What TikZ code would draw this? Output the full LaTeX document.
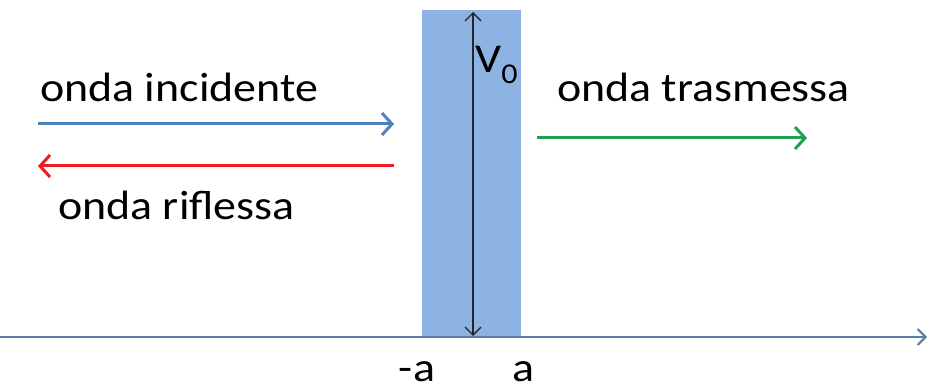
\documentclass[tikz,border=0pt]{standalone}
\usepackage{fontspec}
\setmainfont{Carlito}[FakeStretch=1.12]
\usetikzlibrary{arrows.meta}
\definecolor{barrier}{HTML}{8DB3E2}
\definecolor{incblue}{HTML}{4F81BD}
\definecolor{axisblue}{HTML}{5A7FA8}
\definecolor{refred}{HTML}{EE1C1C}
\definecolor{trgreen}{HTML}{1FA055}
\tikzset{
  lbl/.style={inner sep=0pt, anchor=base west, font=\fontsize{41}{43}\selectfont},
  wave/.style={line width=3pt, -{Straight Barb[length=10pt,width=22pt,line width=3pt]}},
}
\begin{document}
\begin{tikzpicture}[x=1pt,y=-1pt]
\useasboundingbox (0,0) rectangle (928,390);
% barrier
\fill[barrier] (422,10) rectangle (521,337);
% axis
\coordinate (ax0) at (0,337);
\coordinate (ax1) at (927,337);
\draw[axisblue, line width=2pt, -{Straight Barb[length=8pt,width=16pt,line width=2pt]}] (ax0) -- (ax1);
% V0 double arrow
\coordinate (vtop) at (473,12);
\coordinate (vbot) at (473,336);
\draw[black!85, line width=1.3pt, {Straight Barb[length=8pt,width=16pt,line width=1.3pt]}-{Straight Barb[length=8pt,width=16pt,line width=1.3pt]}] (vtop) -- (vbot);
\node[lbl] (v0) at (475,73) {V\textsubscript{0}};
% waves
\node[lbl] (inc) at (40,102) {onda incidente};
\coordinate (i0) at (38,124); \coordinate (i1) at (394,124);
\draw[wave, incblue] (i0) -- (i1);
\coordinate (r0) at (394,166); \coordinate (r1) at (38,166);
\draw[wave, refred] (r0) -- (r1);
\node[lbl] (ref) at (58,219) {onda riflessa};
\node[lbl] (tr) at (557,102) {onda trasmessa};
\coordinate (t0) at (537,138); \coordinate (t1) at (807,138);
\draw[wave, trgreen] (t0) -- (t1);
% tick labels
\node[lbl, anchor=base] (ma) at (417,381) {-a};
\node[lbl, anchor=base] (pa) at (523,381) {a};
\end{tikzpicture}
\end{document}
